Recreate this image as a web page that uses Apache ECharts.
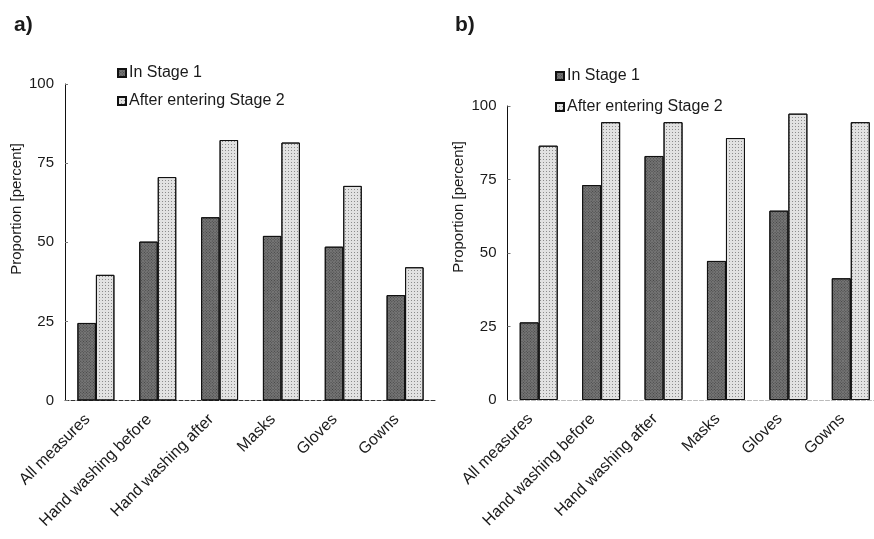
<!DOCTYPE html>
<html><head><meta charset="utf-8">
<script src="https://cdn.jsdelivr.net/npm/echarts@6/dist/echarts.min.js"></script>
<style>html,body{margin:0;padding:0;background:#fff}#c{width:874px;height:539px}</style>
</head><body><div id="c"></div>
<script>
const categories = ['All measures','Hand washing before','Hand washing after','Masks','Gloves','Gowns'];
const seriesNames = ['In Stage 1','After entering Stage 2'];
const aStage1 = [24.5, 50.2, 57.9, 52.0, 48.6, 33.3];
const aStage2 = [39.7, 70.6, 82.3, 81.5, 67.8, 42.1];
const bStage1 = [26.4, 73.1, 83.0, 47.3, 64.4, 41.4];
const bStage2 = [86.5, 94.5, 94.5, 89.1, 97.4, 94.5];
const yTicks = [0, 25, 50, 75, 100];

const FONT = 'Liberation Sans, Arial, sans-serif';
const TXT = '#1a1a1a';
const darkStyle = {color:'#767676', borderColor:'#111', borderWidth:1,
  decal:{symbol:'rect', symbolSize:1, color:'rgba(25,25,25,0.55)', dashArrayX:[1,1], dashArrayY:[1,1], rotation:0.785}};
const lightStyle = {color:'#e2e2e2', borderColor:'#111', borderWidth:1,
  decal:{symbol:'rect', symbolSize:1, color:'rgba(70,70,70,0.55)', dashArrayX:[1,2], dashArrayY:[1,2]}};

function yAx(gi){
  return {type:'value', gridIndex:gi, min:yTicks[0], max:yTicks[yTicks.length-1], interval:25,
    axisLine:{show:true, lineStyle:{color:'#111', width:1}},
    axisTick:{show:true, inside:true, length:3, lineStyle:{color:'#777'}},
    splitLine:{show:false},
    axisLabel:{color:TXT, fontSize:15, fontFamily:FONT, margin:11}};
}
function xAx(gi, lineColor){
  return {type:'category', gridIndex:gi, data:categories,
    axisLine:{show:true, lineStyle:{color:lineColor, width:1, type:'dashed'}},
    axisTick:{show:false},
    axisLabel:{color:TXT, fontSize:16, fontFamily:FONT, rotate:45, margin:8, interval:0, padding:[0,12,0,0]}};
}
const option = {
  animation:false,
  backgroundColor:'#fff',
  title:[
    {text:'a)', left:9, top:10, textStyle:{fontSize:21, fontWeight:'bold', color:TXT, fontFamily:FONT}},
    {text:'b)', left:450, top:10, textStyle:{fontSize:21, fontWeight:'bold', color:TXT, fontFamily:FONT}}
  ],
  legend:[
    {data:seriesNames, orient:'vertical', left:112, top:60, icon:'rect', itemWidth:8, itemHeight:8, itemGap:12,
      textStyle:{fontSize:16, color:TXT, fontFamily:FONT, padding:[0,0,0,-2]}},
    {data:seriesNames, orient:'vertical', left:550, top:63, icon:'rect', itemWidth:8, itemHeight:8, itemGap:15,
      textStyle:{fontSize:16, color:TXT, fontFamily:FONT, padding:[0,0,0,-2]}}
  ],
  grid:[
    {left:65, top:84, width:371, height:316.5, outerBoundsMode:'none', containLabel:false},
    {left:507.5, top:106, width:374.5, height:294, outerBoundsMode:'none', containLabel:false}
  ],
  xAxis:[xAx(0,'#333'), xAx(1,'#bbb')],
  yAxis:[yAx(0), yAx(1)],
  graphic:[
    {type:'text', x:17, y:209, rotation:Math.PI/2,
      style:{text:'Proportion [percent]', fontSize:15, fontFamily:FONT, fill:TXT, align:'center', verticalAlign:'middle'}},
    {type:'text', x:459, y:207, rotation:Math.PI/2,
      style:{text:'Proportion [percent]', fontSize:15, fontFamily:FONT, fill:TXT, align:'center', verticalAlign:'middle'}}
  ],
  series:[
    {name:seriesNames[0], type:'bar', xAxisIndex:0, yAxisIndex:0, data:aStage1, barWidth:18.5, barGap:'0%', itemStyle:darkStyle},
    {name:seriesNames[1], type:'bar', xAxisIndex:0, yAxisIndex:0, data:aStage2, barWidth:18.5, barGap:'0%', itemStyle:lightStyle},
    {name:seriesNames[0], type:'bar', xAxisIndex:1, yAxisIndex:1, data:bStage1, barWidth:19, barGap:'0%', itemStyle:darkStyle},
    {name:seriesNames[1], type:'bar', xAxisIndex:1, yAxisIndex:1, data:bStage2, barWidth:19, barGap:'0%', itemStyle:lightStyle}
  ]
};
const chart = echarts.init(document.getElementById('c'), null, {renderer:'canvas'});
chart.setOption(option);
</script></body></html>
